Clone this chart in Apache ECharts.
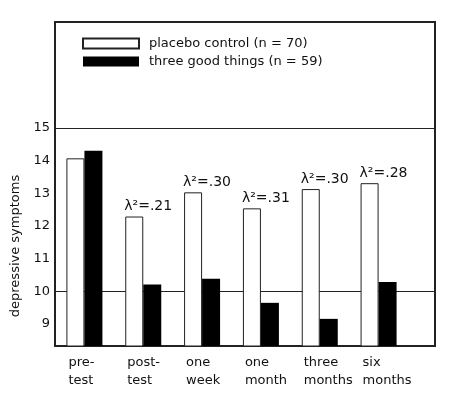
<!DOCTYPE html>
<html>
<head>
<meta charset="utf-8">
<script src="https://cdn.jsdelivr.net/npm/echarts@6/dist/echarts.min.js"></script>
<style>
  html, body { margin: 0; padding: 0; background: #fff; }
  #main { width: 458px; height: 398px; }
</style>
</head>
<body>
<div id="main"></div>
<script>
// 时间点
const categories = ['pre-\ntest', 'post-\ntest', 'one\nweek', 'one\nmonth', 'three\nmonths', 'six\nmonths']
// 两组均值
const placebo = [14.07, 12.29, 13.03, 12.54, 13.13, 13.31]
const goodThings = [14.30, 10.21, 10.39, 9.65, 9.16, 10.29]
// 效应量标注
const effectLabels = ['', 'λ²=.21', 'λ²=.30', 'λ²=.31', 'λ²=.30', 'λ²=.28']
// y 轴刻度标签与参考线
const yTickLabels = [9, 10, 11, 12, 13, 14, 15]
const refLines = [10, 15]
const yMin = 8.33
const yMax = 18.24

const seriesNames = ['placebo control (n = 70)', 'three good things (n = 59)']
const font = 'DejaVu Sans'

var chartObj = echarts.init(document.getElementById('main'))

var option = {
  animation: false,
  textStyle: { fontFamily: font },
  legend: {
    data: seriesNames,
    orient: 'vertical',
    left: 82,
    top: 37,
    padding: 0,
    icon: 'rect',
    itemWidth: 56,
    itemHeight: 10,
    itemGap: 5,
    textStyle: { fontFamily: font, fontSize: 13, color: '#111', padding: [0, 0, 0, 5] }
  },
  grid: [
    // 外框 + y 轴
    { left: 55, right: 23, top: 22, bottom: 52, show: true, borderColor: '#222', borderWidth: 2, backgroundColor: 'transparent' },
    // 柱子
    { left: 55, right: 50, top: 22, bottom: 52 }
  ],
  xAxis: [
    { type: 'value', gridIndex: 0, min: 0, max: 1, show: false },
    {
      type: 'category',
      gridIndex: 1,
      data: categories,
      axisLine: { show: false },
      axisTick: { show: false },
      axisLabel: {
        interval: 0,
        margin: 8,
        formatter: v => v.split('\n').map(s => '{a|' + s + '}').join('\n'),
        rich: {
          a: { width: 32, align: 'left', fontFamily: font, fontSize: 13, lineHeight: 18, color: '#111' }
        }
      }
    }
  ],
  yAxis: [
    {
      type: 'value',
      gridIndex: 0,
      min: yMin,
      max: yMax,
      name: 'depressive symptoms',
      nameLocation: 'middle',
      nameGap: 27,
      nameTextStyle: { fontFamily: font, fontSize: 13, color: '#111', padding: [0, 124, 0, 0] },
      axisLine: { show: false },
      axisTick: { show: false },
      splitLine: { show: false },
      axisLabel: {
        margin: 5,
        fontFamily: font,
        fontSize: 13,
        color: '#111',
        customValues: yTickLabels
      }
    },
    { type: 'value', gridIndex: 1, min: yMin, max: yMax, show: false }
  ],
  series: [
    {
      // 参考线
      type: 'scatter',
      xAxisIndex: 0,
      yAxisIndex: 0,
      z: 0,
      symbolSize: 0,
      silent: true,
      data: [[0, yMin]],
      markLine: {
        z: 1,
        silent: true,
        symbol: 'none',
        label: { show: false },
        lineStyle: { color: '#222', width: 1, type: 'solid' },
        data: refLines.map(v => ({ yAxis: v }))
      }
    },
    {
      name: seriesNames[0],
      type: 'bar',
      xAxisIndex: 1,
      yAxisIndex: 1,
      z: 3,
      barWidth: 18,
      barGap: '0%',
      itemStyle: { color: '#fff', borderColor: '#222', borderWidth: 1 },
      label: {
        show: true,
        position: [-1, -3],
        align: 'left',
        verticalAlign: 'bottom',
        fontFamily: font,
        fontSize: 14,
        color: '#111',
        formatter: p => effectLabels[p.dataIndex]
      },
      data: placebo
    },
    {
      name: seriesNames[1],
      type: 'bar',
      xAxisIndex: 1,
      yAxisIndex: 1,
      z: 3,
      barWidth: 18,
      barGap: '0%',
      itemStyle: { color: '#000' },
      data: goodThings
    }
  ]
}

chartObj.setOption(option, true)
</script>
</body>
</html>
